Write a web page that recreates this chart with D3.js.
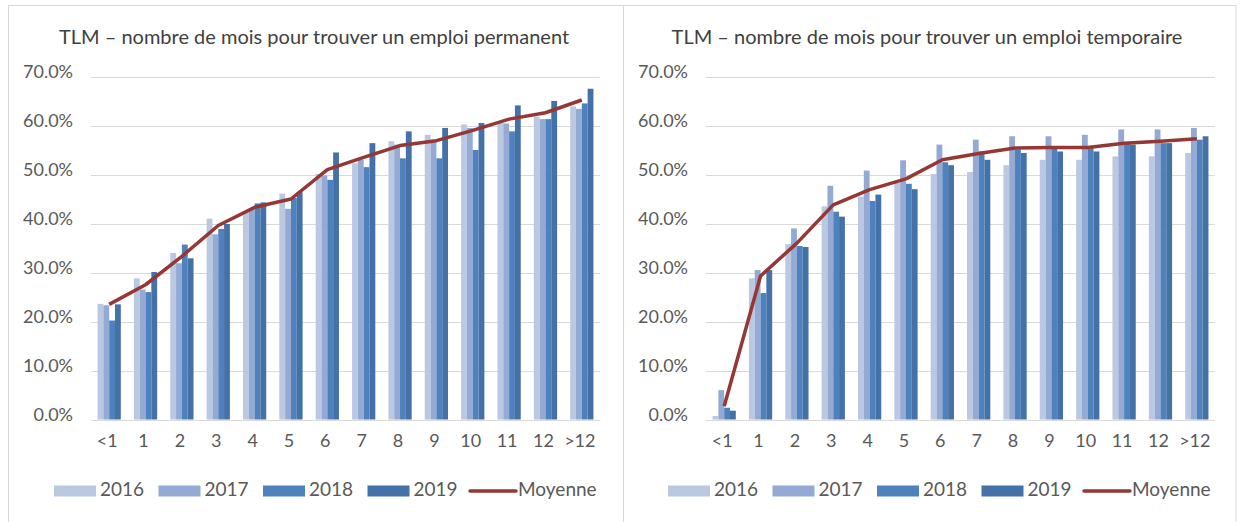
<!DOCTYPE html>
<html>
<head>
<meta charset="utf-8">
<script src="https://cdn.jsdelivr.net/npm/d3@7"></script>
<style>
  body { margin: 0; background: #fff; }
  svg { display: block; }
  text { font-family: Lato, "Open Sans", sans-serif; }
</style>
</head>
<body>
<svg id="chart" width="1240" height="522"></svg>
<script>
// categories (months) and series years
const categories = ["<1", "1", "2", "3", "4", "5", "6", "7", "8", "9", "10", "11", "12", ">12"]
const years = ["2016", "2017", "2018", "2019"]
const yTicks = [0, 10, 20, 30, 40, 50, 60, 70]

// TLM - emploi permanent (%)
const perm2016 = [23.6, 28.8, 34.0, 41.0, 42.3, 46.1, 50.1, 52.3, 56.8, 58.1, 60.2, 60.5, 61.8, 63.9]
const perm2017 = [23.3, 26.5, 31.9, 37.8, 42.8, 43.0, 49.8, 53.0, 56.1, 57.1, 59.5, 60.4, 61.3, 63.4]
const perm2018 = [20.2, 26.0, 35.7, 38.9, 44.1, 45.2, 48.9, 51.5, 53.3, 53.3, 55.0, 58.8, 61.3, 64.5]
const perm2019 = [23.5, 30.1, 32.9, 39.9, 44.3, 46.4, 54.5, 56.4, 58.8, 59.5, 60.5, 64.1, 65.0, 67.5]
const permAvg  = [23.5, 27.5, 33.3, 39.6, 43.3, 45.0, 51.0, 53.5, 55.9, 56.9, 59.0, 61.3, 62.6, 65.2]

// TLM - emploi temporaire (%)
const temp2016 = [0.7, 28.8, 35.8, 43.5, 45.5, 48.3, 50.1, 50.5, 51.9, 53.0, 53.0, 53.7, 53.7, 54.4]
const temp2017 = [6.0, 30.5, 39.0, 47.7, 50.8, 52.9, 56.1, 57.1, 57.8, 57.8, 58.1, 59.2, 59.2, 59.5]
const temp2018 = [2.4, 25.8, 35.4, 42.4, 44.6, 48.1, 52.5, 54.7, 55.1, 55.4, 55.4, 56.3, 56.4, 57.1]
const temp2019 = [1.8, 30.5, 35.2, 41.4, 45.9, 47.0, 51.9, 53.0, 54.4, 54.7, 54.7, 56.1, 56.4, 57.8]
const tempAvg  = [2.7, 29.3, 36.0, 43.8, 46.9, 49.1, 53.0, 54.3, 55.4, 55.5, 55.5, 56.4, 56.8, 57.3]

const colors = {"2016": "#bac8e2", "2017": "#94a9d3", "2018": "#4f81bd", "2019": "#4471a8"}
const avgColor = "#953735"
const gridColor = "#d9d9d9"
const textColor = "#595959"

const svg = d3.select('#chart')

// panel frames
svg.append("rect").attr("x", 8.5).attr("y", 5.5).attr("width", 615).attr("height", 530)
    .attr("fill", "none").attr("stroke", gridColor)
svg.append("rect").attr("x", 623.5).attr("y", 5.5).attr("width", 612.5).attr("height", 530)
    .attr("fill", "none").attr("stroke", gridColor)

function drawPanel(cfg) {
    const series = years.map((y, i) => ({ year: y, values: cfg.values[i] }))

    const x0 = d3.scaleBand().domain(categories)
        .range([cfg.left, cfg.right]).paddingInner(0.36).paddingOuter(0.18)
    const x1 = d3.scaleBand().domain(years).range([0, x0.bandwidth()])
    const y = d3.scaleLinear().domain([0, 70]).range([419.5, 76.5])

    const g = svg.append("g")

    // title
    g.append("text")
        .attr("x", cfg.titleX).attr("y", 44)
        .attr("text-anchor", "middle")
        .attr("font-size", 20)
        .attr("fill", "#404040")
        .text(cfg.title)

    // gridlines
    g.append("g").selectAll("line").data(yTicks).enter().append("line")
        .attr("x1", cfg.left).attr("x2", cfg.right)
        .attr("y1", d => Math.round(y(d)) + 0.5).attr("y2", d => Math.round(y(d)) + 0.5)
        .attr("stroke", gridColor).attr("stroke-width", 1.2)

    // y labels
    g.append("g").selectAll("text").data(yTicks).enter().append("text")
        .attr("x", cfg.left - 18).attr("y", d => y(d) - 3)
        .attr("text-anchor", "end")
        .attr("dominant-baseline", "middle")
        .attr("font-size", 18)
        .attr("fill", textColor)
        .text(d => d.toFixed(1) + "%")

    // bars
    const groups = g.append("g").selectAll("g").data(series).enter().append("g")
        .attr("fill", d => colors[d.year])
    groups.selectAll("rect").data(d => d.values.map((v, i) => ({ year: d.year, cat: categories[i], v: v })))
        .enter().append("rect")
        .attr("x", d => x0(d.cat) + x1(d.year))
        .attr("width", x1.bandwidth())
        .attr("y", d => y(d.v))
        .attr("height", d => y(0) - y(d.v))

    // x labels
    g.append("g").selectAll("text").data(categories).enter().append("text")
        .attr("x", d => x0(d) + x0.bandwidth() / 2 - 2)
        .attr("y", 447)
        .attr("text-anchor", "middle")
        .attr("font-size", 18)
        .attr("fill", textColor)
        .text(d => d)

    // average line
    const line = d3.line()
        .x((d, i) => x0(categories[i]) + x0.bandwidth() / 2)
        .y(d => y(d))
    g.append("path").datum(cfg.avg)
        .attr("d", line)
        .attr("fill", "none")
        .attr("stroke", avgColor)
        .attr("stroke-width", 3.5)
        .attr("stroke-linejoin", "round")

    // legend
    const lg = g.append("g").attr("transform", `translate(${cfg.legendX},491)`)
    years.forEach((yr, i) => {
        lg.append("rect").attr("x", i * 104.5).attr("y", -5.5)
            .attr("width", 42).attr("height", 11).attr("fill", colors[yr])
        lg.append("text").attr("x", i * 104.5 + 46).attr("y", 0)
            .attr("dominant-baseline", "middle")
            .attr("font-size", 19).attr("fill", textColor).text(yr)
    })
    lg.append("line").attr("x1", 4 * 104.5 - 2).attr("x2", 4 * 104.5 + 44)
        .attr("y1", 0).attr("y2", 0)
        .attr("stroke", avgColor).attr("stroke-width", 3.5).attr("stroke-linecap", "round")
    lg.append("text").attr("x", 4 * 104.5 + 46).attr("y", 0)
        .attr("dominant-baseline", "middle")
        .attr("font-size", 19).attr("fill", textColor).text("Moyenne")
}

drawPanel({
    title: "TLM – nombre de mois pour trouver un emploi permanent",
    titleX: 314, left: 91, right: 600, legendX: 54,
    values: [perm2016, perm2017, perm2018, perm2019],
    avg: permAvg
})

drawPanel({
    title: "TLM – nombre de mois pour trouver un emploi temporaire",
    titleX: 927, left: 706, right: 1215, legendX: 668,
    values: [temp2016, temp2017, temp2018, temp2019],
    avg: tempAvg
})
</script>
</body>
</html>
